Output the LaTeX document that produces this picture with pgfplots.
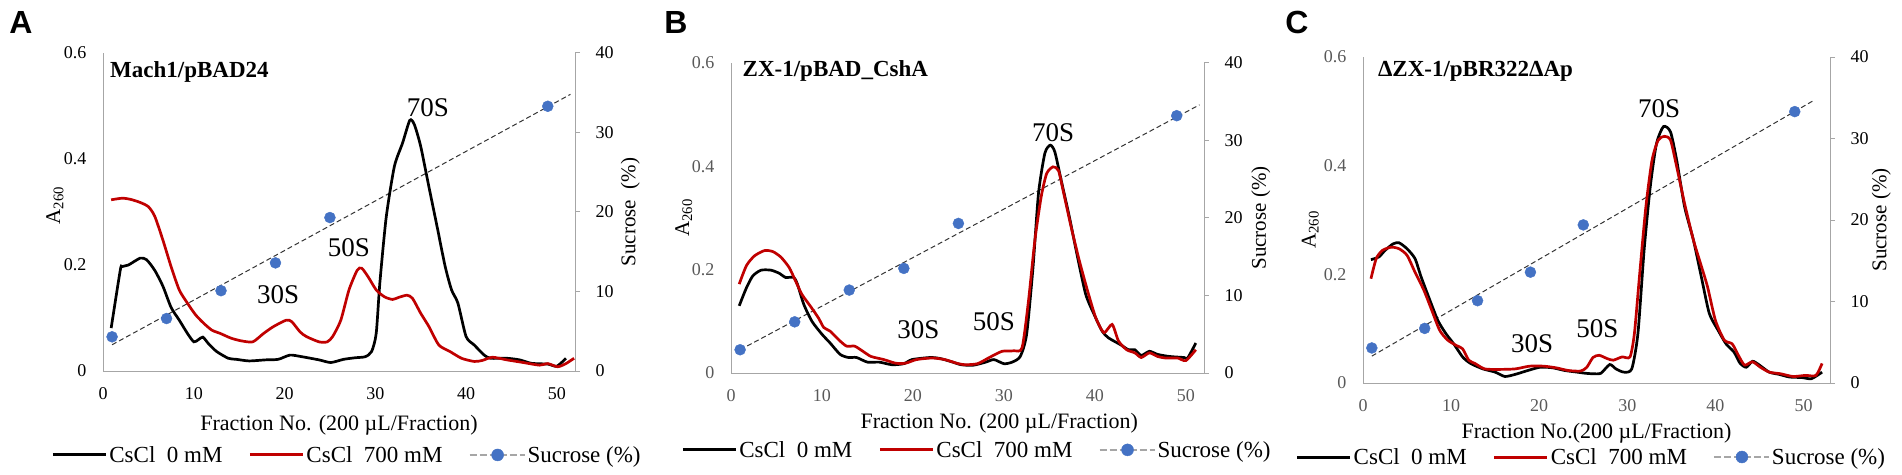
\documentclass[border=0pt]{standalone}
\usepackage{pgfplots}
\pgfplotsset{compat=1.18}
\usepackage{fontspec}
\setmainfont{Liberation Serif}
\newfontfamily\sansbold{Liberation Sans}
\definecolor{cred}{HTML}{C00000}
\definecolor{sucblue}{HTML}{4472C4}
\definecolor{axgray}{HTML}{A6A6A6}
\definecolor{tgray}{HTML}{595959}
\tikzset{
  peak/.style={font=\rmfamily\fontsize{27}{28}\selectfont, anchor=center},
  ttl/.style={font=\rmfamily\fontsize{23}{24}\selectfont\bfseries, anchor=west},
  lab/.style={font=\rmfamily\fontsize{21}{22}\selectfont, anchor=center},
  xlab/.style={font=\rmfamily\fontsize{22}{24}\selectfont, anchor=center},
  plet/.style={font=\sansbold\bfseries\fontsize{32}{33}\selectfont},
}
\pgfplotsset{
  common/.style={scale only axis, xmin=0, clip=false,
    /pgf/number format/assume math mode=true,
    tick label style={font=\rmfamily\fontsize{18}{20}\selectfont},
    axis line style={draw=axgray, line width=1pt},
  },
  prim/.style={common, axis x line*=bottom, axis y line*=left,
    ymin=0, ymax=0.6, ytick={0,0.2,0.4,0.6}, xtick={0,10,20,30,40,50},
    major tick length=0pt,
    yticklabel style={/pgf/number format/fixed, /pgf/number format/precision=1, xshift=-13pt},
    xticklabel style={yshift=-13pt},
    legend columns=3,
    legend style={draw=none, fill=none, font=\rmfamily\fontsize{23}{24}\selectfont, inner sep=0pt,
      nodes={inner xsep=2pt, inner ysep=1pt},
      /tikz/every even column/.append style={column sep=24pt}},
    legend cell align=left,
  },
  sec/.style={common, axis x line=none, axis y line*=right,
    ymin=0, ymax=40, ytick={0,10,20,30,40}, xtick=\empty,
    tick align=outside, major tick length=5pt,
    major tick style={draw=axgray, line width=1pt},
    yticklabel style={xshift=12pt},
  },
  blk/.style={black, line width=2.7pt, smooth, tension=0.4, no marks,
    legend image code/.code={\draw[black, line width=3pt] (0pt,0pt) -- (53pt,0pt);}},
  rd/.style={cred, line width=2.7pt, smooth, tension=0.4, no marks,
    legend image code/.code={\draw[cred, line width=3pt] (0pt,0pt) -- (53pt,0pt);}},
  trend/.style={black!80, line width=1pt, dash pattern=on 5pt off 3pt, no marks},
  suc/.style={only marks, mark=*, mark size=5.5pt, mark options={fill=sucblue, draw=sucblue}},
}
\newcommand{\suclegend}{\addlegendimage{legend image code/.code={\draw[axgray, line width=2pt, dash pattern=on 7pt off 3pt] (0pt,0pt) -- (55pt,0pt); \fill[sucblue] (28pt,0pt) circle (6pt);}}}
\begin{document}
\begin{tikzpicture}
\useasboundingbox (0,0) rectangle (1902pt,474pt);
% ================= Panel A =================
\node[plet] at (21pt,452pt) {A};
\begin{axis}[sec, width=472pt, height=318pt, xmax=52, at={(103pt,103pt)}, anchor=south west,
  ylabel={Sucrose\enspace(\%)}, ylabel style={lab, at={(axis description cs:1.117,0.5)}}]
\addplot[trend] coordinates {(1,3.3) (51.5,34.8)};
\addplot[suc] coordinates {(1,4.3) (7,6.6) (13,10.1) (19,13.6) (25,19.3) (49,33.3)};
\end{axis}
\begin{axis}[prim, width=472pt, height=318pt, xmax=52, at={(103pt,103pt)}, anchor=south west,
  xlabel={Fraction No. (200 µL/Fraction)}, xlabel style={xlab, at={(axis description cs:0.50,-0.170)}},
  ylabel={A\textsubscript{260}}, ylabel style={lab, at={(axis description cs:-0.102,0.52)}},
  legend style={at={(axis description cs:0.517,-0.264)}, anchor=center}]
\addplot[blk] coordinates {(0.9,0.081)(1.9,0.19)(2.1,0.197)(2.8,0.2)(4.1,0.213)(4.8,0.21)(5.7,0.19)(6.6,0.16)(7.5,0.12)(8.4,0.096)(9.3,0.071)(10,0.055)(10.5,0.059)(11,0.064)(11.6,0.052)(12.5,0.037)(13.8,0.024)(14.7,0.022)(16.1,0.019)(17.9,0.021)(19.3,0.022)(20.6,0.030)(21.9,0.027)(23.8,0.021)(25.1,0.016)(26.5,0.022)(27.8,0.025)(28.9,0.027)(29.6,0.037)(30.1,0.071)(30.5,0.166)(31.2,0.29)(32.1,0.386)(33,0.43)(33.8,0.473)(34.3,0.465)(35,0.424)(35.9,0.348)(36.8,0.273)(37.7,0.197)(38.4,0.153)(39.1,0.128)(40,0.065)(40.9,0.049)(42,0.030)(42.7,0.024)(44.5,0.024)(45.9,0.021)(47.2,0.0145)(49,0.013)(50,0.009)(51,0.024)};
\addlegendentry{CsCl\enspace 0 mM}
\addplot[rd] coordinates {(0.9,0.323)(2.1,0.326)(3,0.324)(4.1,0.318)(5,0.31)(5.7,0.292)(6.6,0.247)(7.5,0.197)(8.4,0.153)(9.3,0.128)(10.2,0.106)(11.1,0.090)(12,0.077)(12.9,0.071)(14.1,0.062)(15.2,0.057)(16.5,0.055)(17.7,0.071)(18.8,0.084)(20.2,0.096)(20.8,0.093)(21.7,0.074)(22.4,0.065)(23.8,0.055)(24.7,0.055)(25.3,0.065)(26.2,0.096)(27.1,0.153)(28,0.19)(28.5,0.194)(29.2,0.178)(30.1,0.153)(31,0.140)(31.9,0.135)(32.6,0.139)(33.5,0.143)(34.1,0.137)(35,0.109)(35.9,0.084)(37,0.049)(38.2,0.037)(39.5,0.024)(40.9,0.018)(41.8,0.020)(42.9,0.026)(44.5,0.021)(46.3,0.016)(48.1,0.011)(49,0.014)(50.1,0.008)(51,0.014)(51.9,0.024)};
\addlegendentry{CsCl\enspace 700 mM}
\suclegend
\addlegendentry{Sucrose (\%)}
\node[ttl] at (axis cs:0.4,0.565) {Mach1/pBAD24};
\node[peak] at (axis cs:35.8,0.496) {70S};
\node[peak] at (axis cs:27.1,0.232) {50S};
\node[peak] at (axis cs:19.3,0.144) {30S};
\end{axis}
% ================= Panel B =================
\node[plet] at (676pt,452pt) {B};
\begin{axis}[sec, width=473pt, height=310pt, xmax=52, at={(731pt,101pt)}, anchor=south west,
  ylabel={Sucrose (\%)}, ylabel style={lab, at={(axis description cs:1.12,0.5)}}]
\addplot[trend] coordinates {(1,3.0) (51.5,34.6)};
\addplot[suc] coordinates {(1,3.0) (7,6.6) (13,10.7) (19,13.5) (25,19.3) (49,33.2)};
\end{axis}
\begin{axis}[prim, width=473pt, height=310pt, xmax=52, at={(731pt,101pt)}, anchor=south west,
  tick label style={text=tgray},
  xlabel={Fraction No. (200 µL/Fraction)}, xlabel style={xlab, at={(axis description cs:0.567,-0.163)}},
  ylabel={A\textsubscript{260}}, ylabel style={lab, at={(axis description cs:-0.10,0.5)}},
  legend style={at={(axis description cs:0.52,-0.248)}, anchor=center}]
\addplot[blk] coordinates {(0.9,0.130)(1.7,0.165)(2.4,0.188)(3.3,0.199)(4.4,0.199)(5.3,0.193)(6,0.185)(6.9,0.185)(7.3,0.172)(8,0.133)(8.9,0.100)(10,0.075)(10.9,0.058)(12,0.036)(12.9,0.030)(13.8,0.030)(15,0.021)(16.3,0.021)(17.7,0.016)(19,0.018)(19.9,0.026)(21.9,0.030)(23,0.028)(24.4,0.021)(25.3,0.016)(26.6,0.015)(28,0.021)(28.9,0.026)(30,0.018)(30.9,0.021)(31.8,0.032)(32.5,0.075)(33.2,0.204)(33.8,0.347)(34.5,0.425)(35.1,0.441)(35.6,0.428)(36.3,0.373)(37.2,0.302)(38.1,0.224)(39,0.152)(39.9,0.114)(40.8,0.081)(41.5,0.068)(42.8,0.055)(43.7,0.045)(44.4,0.045)(45.1,0.034)(46,0.042)(46.9,0.036)(48.2,0.032)(49.8,0.030)(50.2,0.029)(51.1,0.058)};
\addlegendentry{CsCl\enspace 0 mM}
\addplot[rd] coordinates {(0.9,0.172)(1.7,0.208)(2.6,0.227)(3.7,0.237)(4.6,0.235)(5.5,0.224)(6.4,0.204)(7.1,0.178)(7.8,0.152)(8.7,0.130)(9.6,0.107)(10.2,0.088)(10.9,0.081)(11.8,0.065)(12.7,0.052)(13.6,0.052)(14.5,0.042)(15.4,0.032)(16.8,0.026)(18.1,0.019)(19.2,0.019)(20.4,0.026)(22.1,0.029)(23.5,0.026)(24.8,0.019)(25.7,0.016)(27.1,0.018)(28.4,0.030)(29.8,0.042)(31.1,0.043)(32,0.049)(32.7,0.139)(33.4,0.256)(34.1,0.341)(34.7,0.386)(35.4,0.399)(36,0.392)(36.5,0.354)(37.4,0.282)(38.3,0.217)(39.2,0.159)(40.1,0.107)(41,0.078)(41.9,0.094)(42.6,0.062)(43.5,0.045)(44.4,0.039)(45.1,0.030)(46,0.039)(46.9,0.032)(47.8,0.029)(49.1,0.029)(50,0.024)(51.1,0.045)};
\addlegendentry{CsCl\enspace 700 mM}
\suclegend
\addlegendentry{Sucrose (\%)}
\node[ttl] at (axis cs:0.9,0.584) {ZX-1/pBAD\_CshA};
\node[peak] at (axis cs:35.4,0.465) {70S};
\node[peak] at (axis cs:28.9,0.099) {50S};
\node[peak] at (axis cs:20.6,0.084) {30S};
\end{axis}
% ================= Panel C =================
\node[plet] at (1297pt,452pt) {C};
\begin{axis}[sec, width=467pt, height=326pt, xmax=53, at={(1363pt,91pt)}, anchor=south west,
  ylabel={Sucrose (\%)}, ylabel style={lab, at={(axis description cs:1.11,0.5)}}]
\addplot[trend] coordinates {(1,3.3) (51.2,34.7)};
\addplot[suc] coordinates {(1,4.3) (7,6.7) (13,10.1) (19,13.6) (25,19.4) (49,33.3)};
\end{axis}
\begin{axis}[prim, width=467pt, height=326pt, xmax=53, at={(1363pt,91pt)}, anchor=south west,
  tick label style={text=tgray},
  xlabel={Fraction No.(200 µL/Fraction)}, xlabel style={xlab, at={(axis description cs:0.50,-0.153)}},
  ylabel={A\textsubscript{260}}, ylabel style={lab, at={(axis description cs:-0.113,0.47)}},
  legend style={at={(axis description cs:0.489,-0.227)}, anchor=center}]
\addplot[blk] coordinates {(0.9,0.227)(1.8,0.232)(2.5,0.244)(3.4,0.256)(4.1,0.258)(5,0.247)(5.9,0.229)(6.6,0.195)(7.6,0.152)(8.5,0.115)(9.4,0.091)(10.3,0.072)(11.3,0.048)(12.2,0.036)(13.6,0.026)(15,0.020)(16.1,0.012)(17.3,0.016)(18.7,0.023)(20.1,0.029)(21.5,0.028)(22.9,0.023)(24.3,0.020)(25.2,0.018)(26.1,0.017)(27,0.018)(28,0.034)(28.7,0.026)(29.6,0.020)(30.5,0.026)(31.2,0.091)(31.9,0.244)(32.6,0.361)(33.3,0.440)(34.1,0.472)(34.9,0.462)(35.6,0.410)(36.5,0.324)(37.5,0.263)(38.4,0.195)(39.3,0.128)(40.3,0.097)(41.2,0.072)(42.1,0.057)(42.8,0.036)(43.5,0.029)(44.2,0.040)(44.9,0.034)(46.1,0.020)(47.2,0.016)(48.4,0.011)(49.8,0.010)(50.9,0.008)(52.1,0.020)};
\addlegendentry{CsCl\enspace 0 mM}
\addplot[rd] coordinates {(0.9,0.192)(1.5,0.229)(2.2,0.244)(3.2,0.250)(4.1,0.247)(5,0.235)(5.9,0.204)(6.9,0.171)(7.8,0.134)(8.7,0.097)(9.6,0.079)(10.6,0.069)(11.3,0.063)(12,0.042)(12.7,0.036)(13.8,0.026)(15.4,0.025)(17.3,0.026)(18.9,0.031)(20.5,0.031)(21.9,0.028)(23.3,0.023)(24.7,0.022)(25.4,0.029)(26.1,0.047)(26.8,0.051)(27.7,0.045)(28.4,0.042)(29.4,0.048)(30.3,0.048)(30.8,0.091)(31.4,0.201)(32.1,0.324)(32.8,0.410)(33.5,0.447)(34.2,0.454)(34.9,0.447)(35.6,0.398)(36.5,0.330)(37.5,0.263)(38.4,0.215)(39.1,0.177)(40,0.115)(41,0.079)(41.9,0.072)(42.6,0.051)(43.3,0.033)(44.2,0.039)(45.1,0.029)(46.1,0.020)(47.4,0.017)(48.8,0.012)(50.2,0.014)(51.4,0.014)(52.1,0.036)};
\addlegendentry{CsCl\enspace 700 mM}
\suclegend
\addlegendentry{Sucrose (\%)}
\node[ttl] at (axis cs:1.3,0.573) {ΔZX-1/pBR322ΔAp};
\node[peak] at (axis cs:33.6,0.505) {70S};
\node[peak] at (axis cs:26.6,0.100) {50S};
\node[peak] at (axis cs:19.2,0.072) {30S};
\end{axis}
\end{tikzpicture}
\end{document}
